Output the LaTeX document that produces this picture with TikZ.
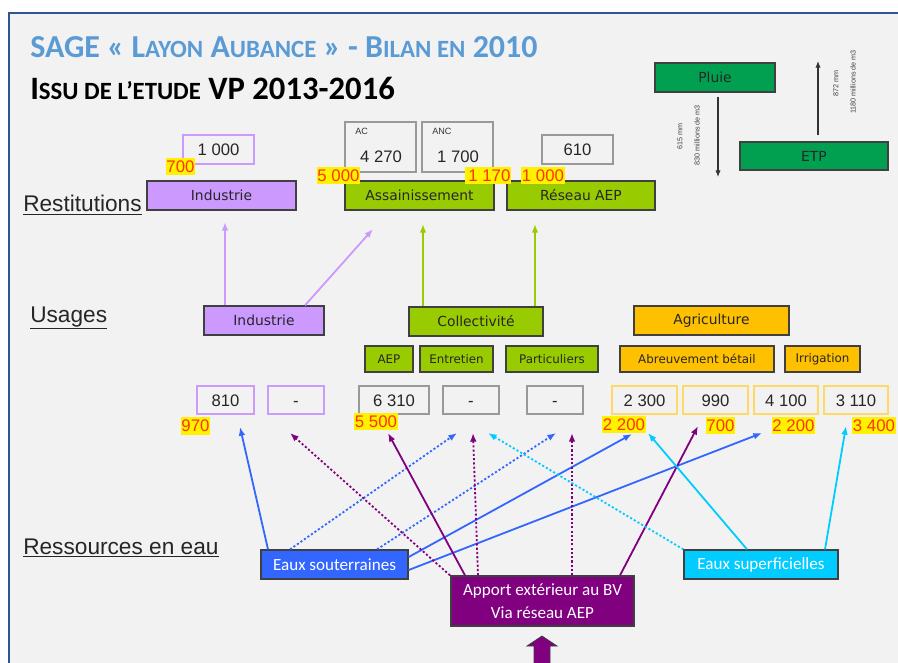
\documentclass[tikz,border=0pt]{standalone}
\usepackage{fontspec}
\usepackage{tikz}
\usetikzlibrary{arrows.meta}
\setmainfont{Liberation Sans}
\newfontfamily\calib{Carlito}
\newfontfamily\dejav{DejaVu Sans}
\definecolor{titrebleu}{HTML}{5B9BD5}
\definecolor{cadre}{HTML}{2F5597}
\definecolor{fondgris}{HTML}{F2F2F2}
\definecolor{lilas}{HTML}{CC99FF}
\definecolor{lime}{HTML}{99CC00}
\definecolor{ocre}{HTML}{FFC000}
\definecolor{ocreclair}{HTML}{FFD966}
\definecolor{bleusout}{HTML}{3366FF}
\definecolor{ciel}{HTML}{00CCFF}
\definecolor{prune}{HTML}{800080}
\definecolor{vertpluie}{HTML}{00A050}
\definecolor{rougeval}{HTML}{FF3300}
\definecolor{trait}{HTML}{404040}
\definecolor{grisval}{HTML}{999999}
\newcommand\petcap[1]{{\fontsize{18.6pt}{20pt}\selectfont #1}}

\begin{document}
\begin{tikzpicture}[x=0.75pt,y=-0.75pt]
\tikzstyle{every node}+=[inner sep=0pt]
\tikzstyle{boite}=[draw=trait, line width=1pt, text=black!85, font=\dejav\fontsize{10.4pt}{12pt}\selectfont, minimum height=21.75pt]
\tikzstyle{sousboite}=[boite, minimum height=19.5pt, font=\dejav\fontsize{8.9pt}{10pt}\selectfont]
\tikzstyle{ressource}=[boite, text=white, font=\calib\fontsize{12.8pt}{15pt}\selectfont]
\tikzstyle{valeur}=[draw=#1, line width=1pt, minimum height=21pt, text height=9pt, text depth=0pt, text=black!85, font=\fontsize{12.5pt}{14pt}\selectfont]
\tikzstyle{surligne}=[fill=yellow, text=rougeval, inner xsep=0.6pt, inner ysep=2.2pt, font=\fontsize{12.6pt}{13pt}\selectfont]
\tikzstyle{rubrique}=[anchor=west, text=black!85, font=\fontsize{17pt}{19pt}\selectfont]
\tikzstyle{petit}=[rotate=90, text=black!75, font=\fontsize{5.4pt}{6pt}\selectfont]
\tikzstyle{fleche}=[-{Latex[length=6.5pt,width=5pt]}, line width=1.35pt]
\tikzstyle{pointille}=[fleche, dash pattern=on 1.6pt off 1.6pt]

\useasboundingbox (0,0) rectangle (898,662);
\clip (0,0) rectangle (898,662);
\fill [white] (0,0) rectangle (898,662);
\filldraw [fill=fondgris, draw=cadre, line width=1.5pt] (9,13) rectangle (930,700);

\node [anchor=west, text=titrebleu, font=\calib\bfseries\fontsize{24pt}{26pt}\selectfont] (titre) at (30,47) {SAGE « L\petcap{AYON} A\petcap{UBANCE} » - B\petcap{ILAN EN} 2010};
\node [anchor=west, text=black, font=\calib\bfseries\fontsize{24.5pt}{26pt}\selectfont] (soustitre) at (30,88) {I\petcap{SSU DE L’ETUDE} VP 2013-2016};

\node [boite, fill=vertpluie, minimum width=90pt] (pluie) at (715,77.5) {Pluie};
\node [boite, fill=vertpluie, minimum width=111pt, minimum height=21pt] (etp) at (814,156) {ETP};
\coordinate (pluiefin) at (718,177);
\coordinate (etpfin) at (818,61);
\draw [-{Latex[length=5pt,width=4pt]}, black!80, line width=0.8pt] ([yshift=-3pt]pluie.south -| pluiefin) -- (pluiefin);
\draw [-{Latex[length=5pt,width=4pt]}, black!80, line width=0.8pt] ([yshift=4.5pt]etp.north -| etpfin) -- (etpfin);
\node [petit] (pl1) at (680,136) {615 mm};
\node [petit] (pl2) at (697,135) {830 millions de m3};
\node [petit] (ev1) at (836,83) {872 mm};
\node [petit] (ev2) at (853,82) {1180 millions de m3};

\node [rubrique] (lrest) at (23,205) {\underline{Restitutions}};
\node [rubrique] (lusage) at (30,318) {\underline{Usages}};
\node [rubrique] (lress) at (23,548) {\underline{Ressources en eau}};

\node [valeur=lilas, minimum width=53.25pt, minimum height=21.75pt] (r1000) at (218.5,149.5) {1 000};
\node [valeur=grisval, minimum width=53.25pt, minimum height=37.5pt] (rac) at (380.5,147) {};
\node [valeur=grisval, minimum width=53.25pt, minimum height=37.5pt] (ranc) at (457.5,147) {};
\node [anchor=west, font=\fontsize{6.8pt}{8pt}\selectfont, text=black!80] (tac) at (355,131) {AC};
\node [anchor=west, font=\fontsize{6.8pt}{8pt}\selectfont, text=black!80] (tanc) at (432,131) {ANC};
\node [font=\fontsize{12.5pt}{14pt}\selectfont, text=black!85] (v4270) at (381,157) {4 270};
\node [font=\fontsize{12.5pt}{14pt}\selectfont, text=black!85] (v1700) at (458,157) {1 700};
\node [valeur=grisval, minimum width=53.25pt, minimum height=21.75pt] (r610) at (577.5,149.5) {610};
\node [boite, fill=lilas, minimum width=111.75pt] (rind) at (221.5,195.5) {Industrie};
\node [boite, fill=lime, minimum width=111.75pt] (rass) at (419.5,195.5) {Assainissement};
\node [boite, fill=lime, minimum width=111pt] (raep) at (581,195.5) {Réseau AEP};
\node [surligne] (h700) at (180.5,166.5) {700};
\node [surligne] (h5000) at (338.5,175.5) {5 000};
\node [surligne] (h1170) at (488,175.5) {\,1 170};
\node [surligne] (h1000) at (543,175.5) {1 000};

\node [boite, fill=lilas, minimum width=90pt] (uind) at (264,320.5) {Industrie};
\node [boite, fill=lime, minimum width=100.5pt] (ucol) at (476,321.5) {Collectivité};
\node [boite, fill=ocre, minimum width=116.25pt] (uagr) at (711.5,320.5) {Agriculture};
\node [sousboite, fill=lime, minimum width=36pt] (saep) at (389,359) {AEP};
\node [sousboite, fill=lime, minimum width=54.75pt] (sent) at (456.5,359) {Entretien};
\node [sousboite, fill=lime, minimum width=69pt] (spart) at (552,359) {Particuliers};
\node [sousboite, fill=ocre, minimum width=115.5pt] (sabr) at (697,359) {Abreuvement bétail};
\node [sousboite, fill=ocre, minimum width=56.25pt] (sirr) at (822.5,359) {Irrigation};

\coordinate (ri1) at (225,222);
\coordinate (ri2) at (373,229);
\coordinate (rc1) at (423,224);
\coordinate (rc2) at (535,224);
\draw [fleche, lilas] (uind.north -| ri1) -- (ri1);
\draw [fleche, lilas] (uind.north -| 305,0) -- (ri2);
\draw [fleche, lime] (ucol.north -| rc1) -- (rc1);
\draw [fleche, lime] (ucol.north -| rc2) -- (rc2);

\node [valeur=lilas, minimum width=42.75pt] (v810) at (225.5,400) {810};
\node [valeur=lilas, minimum width=42pt] (vind) at (296,400) {-};
\node [valeur=grisval, minimum width=52.5pt] (v6310) at (394,400) {6 310};
\node [valeur=grisval, minimum width=42pt] (vent) at (471,400) {-};
\node [valeur=grisval, minimum width=42pt] (vpart) at (555,400) {-};
\node [valeur=ocreclair, minimum width=48.75pt] (v2300) at (644.5,400) {2 300};
\node [valeur=ocreclair, minimum width=48.75pt] (v990) at (715.5,400) {990};
\node [valeur=ocreclair, minimum width=48pt] (v4100) at (786,400) {4 100};
\node [valeur=ocreclair, minimum width=48pt] (v3110) at (856,400) {3 110};
\node [surligne] (h970) at (195.5,426) {970};
\node [surligne] (h5500) at (376,421.5) {5 500};
\node [surligne] (h2200a) at (624,424.5) {2 200};
\node [surligne] (h700b) at (720.5,425.5) {700};
\node [surligne] (h2200b) at (793.5,425.5) {2 200};
\node [surligne] (h3400) at (874,425.5) {3 400};

\node [ressource, fill=bleusout, minimum width=110.25pt] (eso) at (334.5,564.5) {Eaux souterraines};
\node [ressource, fill=prune, minimum width=137.25pt, minimum height=37.5pt, align=center] (apport) at (542.5,601) {Apport extérieur au BV\\[2pt]Via réseau AEP};
\node [ressource, fill=ciel, minimum width=115.5pt] (esup) at (761,564.5) {Eaux superficielles};

\coordinate (a810) at (240,427);
\coordinate (aind) at (290,433);
\coordinate (a6310) at (388,433);
\coordinate (aent1) at (457,433);
\coordinate (aent2) at (473,433);
\coordinate (aent3) at (488,433);
\coordinate (apart1) at (556,433);
\coordinate (apart2) at (572,433);
\coordinate (a2300) at (632,434);
\coordinate (a2300b) at (648,433);
\coordinate (a990) at (698,426);
\coordinate (a4100) at (762,433);
\coordinate (a3110) at (846,426);
\draw [fleche, bleusout] (eso.north -| 268,0) -- (a810);
\draw [pointille, bleusout] (eso.north -| 290,0) -- (aent1);
\draw [pointille, bleusout] (eso.north -| 377,0) -- (apart1);
\draw [fleche, bleusout] (eso.east |- 0,557) -- (a2300);
\draw [fleche, bleusout] (eso.east |- 0,570) -- (a4100);
\draw [pointille, prune] (apport.north -| 450,0) -- (aind);
\draw [fleche, prune] (apport.north -| 465,0) -- (a6310);
\draw [pointille, prune] (apport.north -| 478,0) -- (aent2);
\draw [pointille, prune] (apport.north -| 572,0) -- (apart2);
\draw [fleche, prune] (apport.north -| 620,0) -- (a990);
\draw [pointille, ciel] (esup.north west) -- (aent3);
\draw [fleche, ciel] (esup.north -| 747,0) -- (a2300b);
\draw [fleche, ciel] (esup.north -| 825,0) -- (a3110);

\coordinate (entree) at (542,636);
\filldraw [fill=prune, draw=trait, line width=0.6pt] (entree) -- ++(15,10) -- ++(-7,0) -- ++(0,30) -- ++(-16,0) -- ++(0,-30) -- ++(-7,0) -- cycle;
\end{tikzpicture}
\end{document}
